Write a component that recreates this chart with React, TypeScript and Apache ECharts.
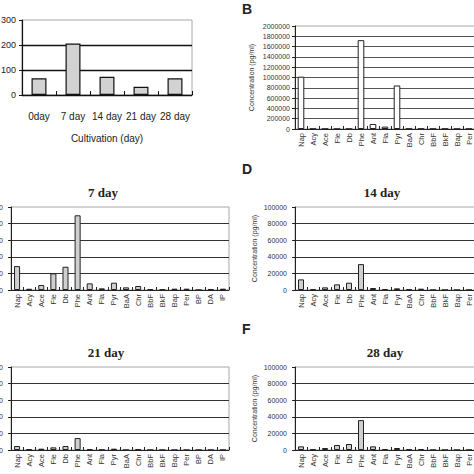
import React, { useEffect, useRef } from 'react';
import * as echarts from 'echarts';

const dayCategories = ['0day', '7 day', '14 day', '21 day', '28 day'];
const dayValues = [67, 206, 73, 33, 67];

const pahCategories = ['Nap', 'Acy', 'Ace', 'Fle', 'Db', 'Phe', 'Ant', 'Fla', 'Pyr', 'BaA', 'Chr', 'BbF', 'BkF', 'Bap', 'Per', 'BP', 'DA', 'IP'];
const day0Values = [1016000, 4000, 3000, 2000, 2000, 1725000, 98000, 46000, 845000, 5000, 6000, 4000, 4000, 3000, 3000, 0, 0, 0];
const day7Values = [28800, 1500, 6000, 20000, 28000, 90000, 8000, 2000, 8800, 3200, 4800, 1200, 500, 1600, 1600, 0, 800, 1600];
const day14Values = [12800, 1200, 3200, 6800, 8800, 31200, 2400, 1200, 2000, 1200, 1600, 0, 0, 0, 0, 0, 0, 0];
const day21Values = [4800, 800, 1600, 3200, 4800, 14400, 800, 300, 1600, 0, 800, 0, 0, 0, 0, 0, 0, 0];
const day28Values = [4400, 800, 2400, 6000, 7200, 36000, 4400, 1200, 2400, 1200, 1200, 0, 0, 0, 0, 0, 0, 0];

const panelTitles = ['7 day', '14 day', '21 day', '28 day'];
const panelLetters = ['B', 'D', 'F'];
const yAxisTitle = 'Concentration (pg/ml)';
const xAxisTitle = 'Cultivation (day)';

const SANS = '"Liberation Sans Narrow", "Arial Narrow", "Liberation Sans", Arial, sans-serif';
const SERIF = '"Liberation Serif", "Times New Roman", serif';

export default function App() {
  const ref = useRef<HTMLDivElement>(null);

  useEffect(() => {
    if (!ref.current) return;
    const chart = echarts.init(ref.current, null, { renderer: 'svg' });

    const grids: any[] = [];
    const xAxes: any[] = [];
    const yAxes: any[] = [];
    const series: any[] = [];
    const plain = (v: number) => String(v);

    const gridBox = (left: number, top: number, width: number, height: number) => ({
      left, top, width, height,
      show: true, borderColor: '#a8a8a8', borderWidth: 1, backgroundColor: 'transparent',
      containLabel: false, outerBoundsMode: 'none',
    });

    // Panel A
    grids.push(gridBox(22, 20, 170, 75));
    xAxes.push({
      type: 'category', gridIndex: 0, data: dayCategories,
      axisLine: { lineStyle: { color: '#111', width: 1.2 } },
      axisTick: { show: true, inside: true, length: 4, lineStyle: { color: '#111' } },
      axisLabel: { fontSize: 10, color: '#222', margin: 16, interval: 0, fontFamily: SANS },
      name: xAxisTitle, nameLocation: 'middle', nameGap: 38,
      nameTextStyle: { fontSize: 10, color: '#222', fontFamily: SANS },
    });
    yAxes.push({
      type: 'value', gridIndex: 0, min: 0, max: 300, interval: 100,
      axisLine: { show: true, lineStyle: { color: '#111', width: 1.2 } },
      axisTick: { show: true, length: 3, lineStyle: { color: '#111' } },
      axisLabel: { fontSize: 9, color: '#222', margin: 6, fontFamily: SANS, formatter: plain },
      splitLine: { show: true, showMaxLine: false, lineStyle: { color: '#111', width: 1.3 } },
    });
    series.push({
      type: 'bar', xAxisIndex: 0, yAxisIndex: 0, data: dayValues, barWidth: '44%',
      itemStyle: { color: '#d2d2d2', borderColor: '#111', borderWidth: 1.2 },
    });

    const pahPanel = (
      idx: number, left: number, top: number, width: number, height: number,
      values: number[], max: number, interval: number, opts: any
    ) => {
      grids.push(gridBox(left, top, width, height));
      xAxes.push({
        type: 'category', gridIndex: idx, data: pahCategories,
        axisLine: { lineStyle: { color: '#222', width: 1 } },
        axisTick: { show: true, inside: true, length: 3, lineStyle: { color: '#222' } },
        axisLabel: { fontSize: 7.5, color: '#333', rotate: 90, margin: 4, interval: 0, fontFamily: SANS },
      });
      yAxes.push({
        type: 'value', gridIndex: idx, min: 0, max, interval,
        axisLine: { show: true, lineStyle: { color: '#222', width: 1 } },
        axisTick: { show: true, length: 3, lineStyle: { color: '#222' } },
        axisLabel: { fontSize: 7, color: '#333', margin: opts.labelMargin, fontFamily: SANS, formatter: plain },
        splitLine: { show: true, showMaxLine: false, lineStyle: { color: opts.splitColor, width: 1 } },
        name: opts.showName ? yAxisTitle : '',
        nameLocation: 'middle', nameGap: opts.nameGap, nameRotate: 90,
        nameTextStyle: { fontSize: 7, color: '#333', fontFamily: SANS },
      });
      series.push({
        type: 'bar', xAxisIndex: idx, yAxisIndex: idx, data: values, barWidth: opts.barWidth,
        itemStyle: { color: opts.fill, borderColor: '#222', borderWidth: 1 },
      });
    };

    // Panel B
    pahPanel(1, 295, 26, 216, 103, day0Values, 2000000, 200000,
      { labelMargin: 5, splitColor: '#555', showName: true, nameGap: 40, barWidth: '55%', fill: '#ffffff' });
    // Panel C (7 day)
    pahPanel(2, 11, 207, 218, 83, day7Values, 100000, 20000,
      { labelMargin: 8, splitColor: '#333', showName: false, nameGap: 40, barWidth: '50%', fill: '#cfcfcf' });
    // Panel D (14 day)
    pahPanel(3, 295, 207, 216, 83, day14Values, 100000, 20000,
      { labelMargin: 8, splitColor: '#333', showName: true, nameGap: 37, barWidth: '50%', fill: '#cfcfcf' });
    // Panel E (21 day)
    pahPanel(4, 11, 367, 218, 83, day21Values, 100000, 20000,
      { labelMargin: 8, splitColor: '#333', showName: false, nameGap: 40, barWidth: '50%', fill: '#cfcfcf' });
    // Panel F (28 day)
    pahPanel(5, 295, 367, 216, 83, day28Values, 100000, 20000,
      { labelMargin: 8, splitColor: '#333', showName: true, nameGap: 37, barWidth: '50%', fill: '#cfcfcf' });

    const titleText = (text: string, x: number, y: number) => ({
      type: 'text', x, y,
      style: { text, fontSize: 13, fontWeight: 'bold', fontFamily: SERIF, fill: '#222', textAlign: 'center', textVerticalAlign: 'top' },
    });
    const letterText = (text: string, x: number, y: number) => ({
      type: 'text', x, y,
      style: { text, fontSize: 14, fontWeight: 'bold', fontFamily: '"Liberation Sans", Arial, sans-serif', fill: '#222', textAlign: 'left', textVerticalAlign: 'top' },
    });

    chart.setOption({
      animation: false,
      backgroundColor: '#ffffff',
      grid: grids,
      xAxis: xAxes,
      yAxis: yAxes,
      series,
      graphic: [
        titleText(panelTitles[0], 103, 186),
        titleText(panelTitles[1], 382, 186),
        titleText(panelTitles[2], 106, 346),
        titleText(panelTitles[3], 385, 346),
        letterText(panelLetters[0], 242, 2),
        letterText(panelLetters[1], 242, 162),
        letterText(panelLetters[2], 242, 322),
      ],
    });

    return () => chart.dispose();
  }, []);

  return <div ref={ref} style={{ position: 'fixed', left: 0, top: 0, width: 474, height: 474 }} />;
}
